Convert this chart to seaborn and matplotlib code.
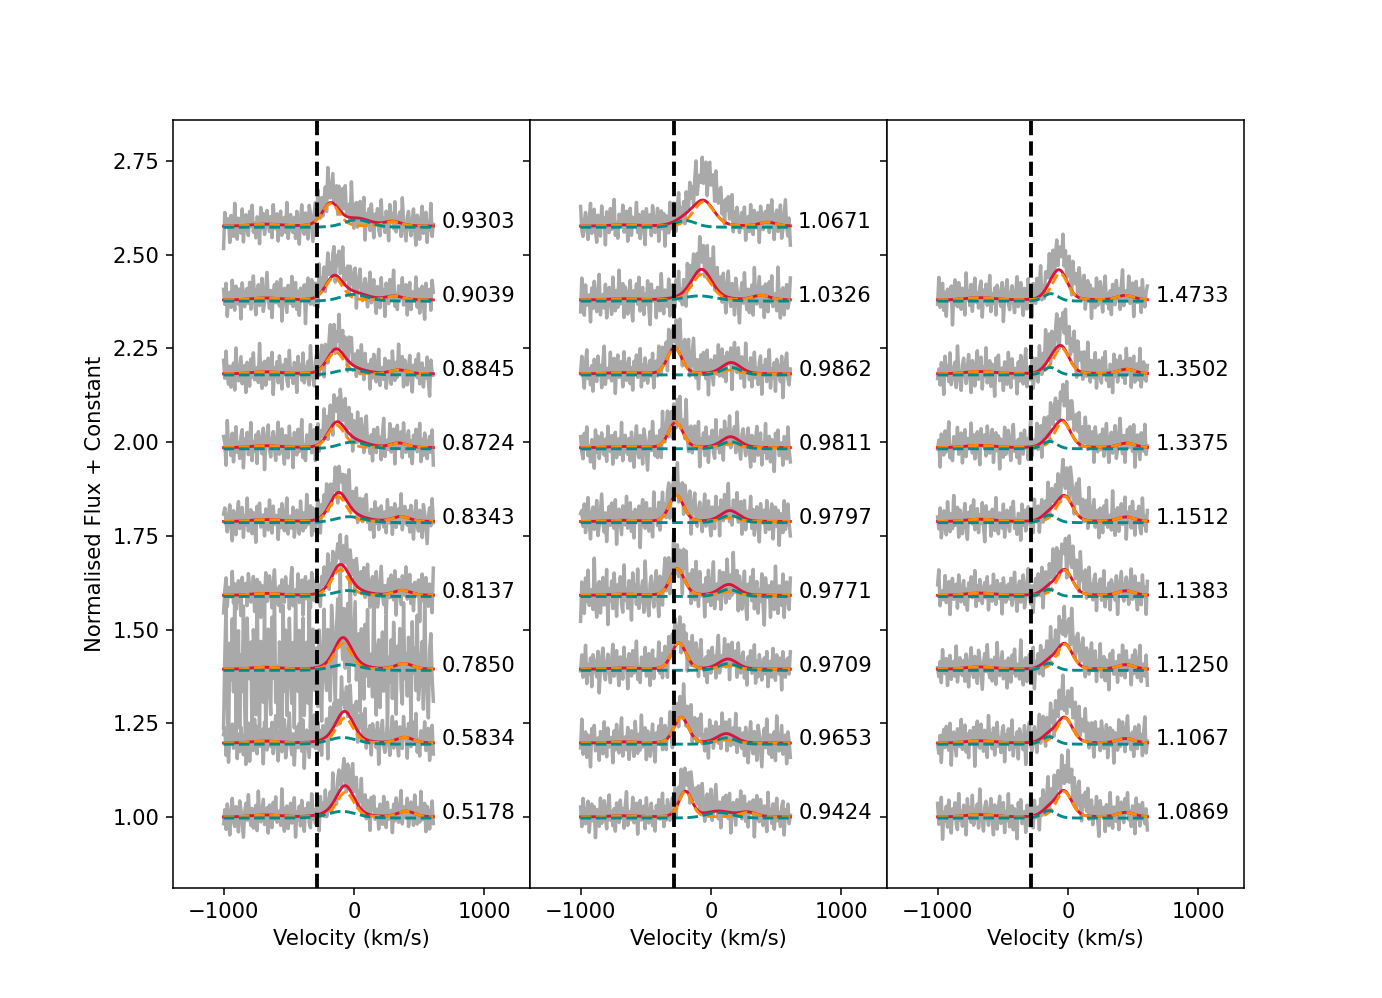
import numpy as np
import seaborn as sns
from matplotlib import pyplot as plt

# ========================================================
# one entry per spectrum, bottom to top within each panel
panel = [0, 0, 0, 0, 0, 0, 0, 0, 0,
         1, 1, 1, 1, 1, 1, 1, 1, 1,
         2, 2, 2, 2, 2, 2, 2, 2]
slot = [0, 1, 2, 3, 4, 5, 6, 7, 8,
        0, 1, 2, 3, 4, 5, 6, 7, 8,
        0, 1, 2, 3, 4, 5, 6, 7]
phase = ["0.5178", "0.5834", "0.7850", "0.8137", "0.8343", "0.8724", "0.8845", "0.9039", "0.9303",
         "0.9424", "0.9653", "0.9709", "0.9771", "0.9797", "0.9811", "0.9862", "1.0326", "1.0671",
         "1.0869", "1.1067", "1.1250", "1.1383", "1.1512", "1.3375", "1.3502", "1.4733"]

# main emission component (orange)
main_vel = [-65, -70, -85, -105, -120, -133, -140, -152, -178,
            -195, -228, -246, -259, -265, -270, -279, -70, -55,
            -30, -25, -25, -25, -25, -40, -50, -60]
main_amp = [0.066, 0.067, 0.069, 0.069, 0.066, 0.060, 0.058, 0.060, 0.060,
            0.068, 0.069, 0.070, 0.071, 0.070, 0.068, 0.070, 0.068, 0.065,
            0.068, 0.067, 0.067, 0.067, 0.067, 0.069, 0.069, 0.071]
main_wid = [65, 65, 65, 65, 65, 65, 65, 65, 65,
            50, 55, 55, 55, 55, 55, 55, 75, 80,
            60, 60, 60, 60, 60, 60, 60, 60]
# small red-side bump carried by the orange fit
wing_vel = [400, 390, 385, 370, 360, 345, 345, 310, 300,
            285, 118, 131, 138, 146, 151, 156, 385, 435,
            444, 444, 444, 444, 446, 450, 450, 440]
wing_amp = [0.015, 0.015, 0.015, 0.013, 0.013, 0.012, 0.010, 0.010, 0.012,
            0.012, 0.008, 0.009, 0.010, 0.010, 0.010, 0.010, 0.012, 0.010,
            0.012, 0.012, 0.012, 0.012, 0.012, 0.012, 0.012, 0.012]
# second component (teal)
teal_vel = [-90, -85, -60, -45, -35, -10, -30, 0, 25,
            60, 118, 131, 138, 146, 151, 156, -90, -195,
            -145, -145, -145, -145, -140, -140, -135, -130]
teal_amp = [0.018, 0.018, 0.016, 0.016, 0.016, 0.018, 0.015, 0.018, 0.020,
            0.015, 0.017, 0.018, 0.019, 0.019, 0.019, 0.020, 0.014, 0.018,
            0.020, 0.020, 0.019, 0.019, 0.020, 0.020, 0.020, 0.020]
teal_wid = [110, 110, 110, 110, 110, 105, 105, 100, 100,
            100, 75, 75, 75, 75, 75, 75, 130, 80,
            55, 55, 55, 55, 55, 55, 55, 55]
# weak blue hump in the continuum fit, per panel
blue_hump = [0.005, 0.003, 0.006]
# extra emission in the data not taken by the fit, and noise level
excess_amp = [0.035, 0.030, 0.030, 0.035, 0.035, 0.035, 0.035, 0.035, 0.035,
              0.030, 0.030, 0.025, 0.030, 0.025, 0.025, 0.030, 0.035, 0.070,
              0.050, 0.050, 0.050, 0.050, 0.050, 0.055, 0.055, 0.045]
noise_blue = [0.030, 0.037, 0.130, 0.034, 0.032, 0.034, 0.032, 0.032, 0.032,
              0.030, 0.034, 0.034, 0.042, 0.034, 0.034, 0.034, 0.036, 0.032,
              0.032, 0.032, 0.032, 0.032, 0.032, 0.032, 0.034, 0.032]
noise_red = [0.030, 0.034, 0.090, 0.034, 0.032, 0.034, 0.032, 0.032, 0.032,
             0.030, 0.034, 0.034, 0.042, 0.034, 0.034, 0.034, 0.036, 0.032,
             0.032, 0.032, 0.032, 0.032, 0.032, 0.032, 0.034, 0.032]

# hand written residual pattern (arbitrary units), reused with shifts
noise_pattern = [
    3, -2, 5, -4, 1, 7, -1, -6, 2, 4, -3, 0, 6, -5, -2, 3, 8, -1, -4, 2,
    -7, 1, 4, -2, 5, 0, -3, 6, -8, 2, 3, -1, -5, 4, 1, -2, 7, -3, 0, 5,
    -4, 2, -6, 3, 1, -1, 4, -9, 2, 6, -2, -3, 5, 0, -4, 3, 1, -6, 8, -1,
    2, -3, 4, -5, 0, 6, -2, 1, -4, 3, 5, -7, 2, -1, 4, -3, 0, 7, -5, 1,
    -2, 3, -6, 4, 2, -1, -3, 5, -8, 0, 3, 6, -2, -4, 1, 4, -1, -5, 2, 7,
    -3, 0, 5, -2, -6, 3, 1, -4, 6, -1, 2, -7, 4, 0, -3, 5, -2, 1, 8, -4,
    0, -5, 3, 2, -1, 6, -3, -2, 4, -6, 1, 5, -4, 2, 0, -1, 7, -3, 3, -5,
    1, 4, -2, -7, 5, 0, -1, 3, -4, 6, 2, -3, -1, 5, -6, 0, 4, -2, 3, -8,
    2, 1, -4, 6, -3, 0, 5, -1, -5, 3, 7, -2, 1, -4, 2, -6, 4, 0, -3, 5,
    -1, 2, -5, 3, 8, -4, 0, 1, -2, 6, -3, -1, 4, -7, 2, 5, -2, 0, 3, -5,
    6, -1, -3, 2, 4, -4, 1, -6, 3, 0, 5, -2, -1, 7, -5, 2, -3, 4, 1, -4,
    0, 3, -2, 5, -6, 1, 2, -3, 6, -1, -4, 4, 0, -2, 3, -7, 5, 1, -3, 2,
]

step = 0.197
ref_vel = -280
n_pix = 170

plt.rcParams["font.size"] = 11

# ========================================================
def profile(v, c, s):
    # pseudo-voigt shape used for the fitted lines
    x = (v - c) / s
    return 0.8 * np.exp(-0.5 * x ** 2) + 0.2 / (1 + (x / 1.18) ** 2)

vel = np.linspace(-1000, 610, n_pix)
pattern = np.array(noise_pattern) / 4.0

fig, axes = plt.subplots(1, 3, sharey=True, figsize=(10, 7.222), dpi=138.2)
plt.subplots_adjust(wspace=0)

for i in range(len(phase)):
    ax = axes[panel[i]]
    base = 1.0 + step * slot[i]

    orange = main_amp[i] * profile(vel, main_vel[i], main_wid[i]) \
        + wing_amp[i] * profile(vel, wing_vel[i], 65) \
        + blue_hump[panel[i]] * np.exp(-0.5 * ((vel + 680) / 110) ** 2)
    teal = teal_amp[i] * profile(vel, teal_vel[i], teal_wid[i])
    red = orange + teal

    res = np.roll(pattern, 37 * i)[:n_pix] * (1 if i % 2 else -1)
    lvl = np.where(vel < -300, noise_blue[i], noise_red[i])
    data = red + 0.004 + excess_amp[i] * profile(vel, main_vel[i] + 40, 110) + lvl * res

    sns.lineplot(x=vel, y=base + data, ax=ax, color="darkgray", lw=1.8,
                 estimator=None, sort=False, zorder=1)
    sns.lineplot(x=vel, y=base + red, ax=ax, color="crimson", lw=1.5,
                 estimator=None, sort=False, zorder=2)
    sns.lineplot(x=vel, y=base + orange, ax=ax, color="darkorange", lw=1.5,
                 ls="--", estimator=None, sort=False, zorder=3)
    sns.lineplot(x=vel, y=base - 0.003 + teal, ax=ax, color="darkcyan", lw=1.5,
                 ls="--", estimator=None, sort=False, zorder=4)

    ax.text(670, base + 0.01, phase[i], ha="left", va="center", fontsize=11)

for ax in axes:
    ax.axvline(ref_vel, color="black", ls="--", lw=2, zorder=5)
    ax.set_xlim(-1390, 1350)
    ax.set_xticks([-1000, 0, 1000])
    ax.set_xlabel("Velocity (km/s)")
    ax.set_ylabel("")

axes[0].set_ylim(0.81, 2.86)
axes[0].set_yticks([1.0, 1.25, 1.5, 1.75, 2.0, 2.25, 2.5, 2.75])
axes[0].set_ylabel("Normalised Flux + Constant", family="Liberation Sans Narrow")

plt.savefig("out.png", dpi=138.2)
